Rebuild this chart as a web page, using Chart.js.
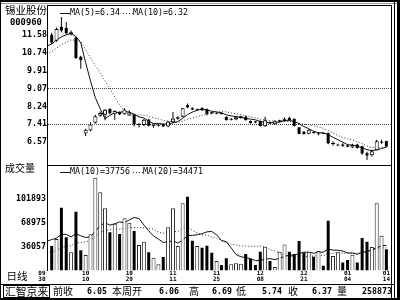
<!DOCTYPE html>
<html lang="zh-CN">
<head>
<meta charset="utf-8">
<title>锡业股份 日线</title>
<script src="https://cdn.jsdelivr.net/npm/chart.js@4.4.1/dist/chart.umd.min.js"></script>
<style>
html,body{margin:0;padding:0;background:#fff;}
#wrap{position:relative;width:400px;height:300px;overflow:hidden;background:#fff;}
#wrap canvas{position:absolute;left:0;}
.t{position:absolute;white-space:nowrap;color:#000;}
.cjk{font-family:"Noto Sans CJK SC","Noto Sans",sans-serif;}
.num{font-family:"DejaVu Sans Mono",monospace;font-weight:bold;font-size:8.3px;line-height:8.3px;}
.ln{position:absolute;background:#000;}
</style>
</head>
<body>
<div id="wrap">
<canvas id="cp" width="400" height="166" style="top:0"></canvas>
<canvas id="cv" width="400" height="120" style="top:165px"></canvas>

<div class="ln" style="left:0;top:0;width:400px;height:2px"></div>
<div class="ln" style="left:0;top:3px;width:397px;height:1px;background:#999"></div>
<div class="ln" style="left:0;top:0;width:1px;height:300px"></div>
<div class="ln" style="left:47px;top:5px;width:345px;height:1px"></div>
<div class="ln" style="left:47px;top:5px;width:1px;height:266px"></div>
<div class="ln" style="left:391px;top:5px;width:1px;height:293px"></div>
<div class="ln" style="left:394px;top:0;width:1px;height:300px"></div>
<div class="ln" style="left:397px;top:0;width:3px;height:300px"></div>
<div class="ln" style="left:47px;top:165px;width:345px;height:1px"></div>
<div class="ln" style="left:0;top:284px;width:395px;height:1px"></div>
<div class="ln" style="left:0;top:298px;width:400px;height:2px"></div>
<div style="position:absolute;left:3px;top:285px;width:45px;height:11px;border:1px solid #000"></div>

<div class="t cjk" id="nm" style="left:5px;top:4.5px;font-size:10.5px;line-height:10.5px"></div>
<div class="t num" id="cd" style="left:10px;top:17.5px;font-size:8.8px;line-height:8.8px"></div>
<div class="t cjk" style="left:5px;top:162.5px;font-size:10px;line-height:10px">成交量</div>
<div class="t cjk" style="left:6.5px;top:271px;font-size:10.5px;line-height:10.5px">日线</div>

<div class="t cjk" style="left:5px;top:285.6px;font-size:10.8px;line-height:10.8px">汇智京来</div>
<div class="t cjk" style="left:53px;top:286px;font-size:10px;line-height:10px">前收</div>
<div class="t num" id="sPrev" style="left:87px;top:287.3px"></div>
<div class="t cjk" style="left:112px;top:286px;font-size:10px;line-height:10px">本周开</div>
<div class="t num" id="sOpen" style="left:159px;top:287.3px"></div>
<div class="t cjk" style="left:189px;top:286px;font-size:10px;line-height:10px">高</div>
<div class="t num" id="sHigh" style="left:212px;top:287.3px"></div>
<div class="t cjk" style="left:236px;top:286px;font-size:10px;line-height:10px">低</div>
<div class="t num" id="sLow" style="left:262px;top:287.3px"></div>
<div class="t cjk" style="left:288px;top:286px;font-size:10px;line-height:10px">收</div>
<div class="t num" id="sClose" style="left:312px;top:287.3px"></div>
<div class="t cjk" style="left:337px;top:286px;font-size:10px;line-height:10px">量</div>
<div class="t num" id="sVol" style="left:362px;top:287.3px"></div>
</div>

<script>
const stockName = '锡业股份';
const stockCode = '000960';

const opens = [11.58,11.30,11.95,11.90,11.60,11.45,10.55,6.98,7.12,7.48,
 7.80,7.85,8.12,7.88,7.98,7.87,7.82,7.86,7.37,7.37,
 7.62,7.31,7.34,7.40,7.30,7.50,7.66,7.76,8.30,8.16,
 8.06,8.16,8.11,7.95,7.90,7.94,7.75,7.62,7.63,7.70,
 7.76,7.56,7.52,7.56,7.31,7.50,7.41,7.52,7.56,7.70,
 7.66,7.26,7.06,6.96,7.04,6.94,6.98,7.00,6.48,6.42,
 6.46,6.42,6.32,6.46,6.38,6.06,5.96,6.20,6.55,6.62];
const highs = [11.68,11.92,12.41,12.18,11.78,11.50,10.60,7.20,7.50,7.85,
 8.00,8.12,8.16,8.05,8.00,8.16,8.05,7.90,7.45,7.66,
 7.66,7.46,7.42,7.42,7.56,7.98,7.78,8.17,8.38,8.20,
 8.14,8.20,8.14,7.98,7.96,7.96,7.78,7.70,7.76,7.80,
 7.80,7.58,7.56,7.58,7.76,7.54,7.58,7.62,7.72,7.76,
 7.68,7.28,7.08,7.18,7.07,7.05,7.00,7.02,6.60,6.50,
 6.52,6.46,6.50,6.50,6.40,6.12,6.22,6.69,6.68,6.64];
const lows = [11.15,11.25,11.70,11.60,11.55,10.45,10.00,6.86,7.08,7.44,
 7.76,7.60,7.88,7.62,7.84,7.85,7.80,7.30,7.26,7.33,
 7.30,7.24,7.30,7.28,7.27,7.47,7.62,7.74,8.15,8.06,
 8.04,8.04,7.82,7.88,7.88,7.86,7.58,7.58,7.60,7.66,
 7.58,7.44,7.46,7.30,7.28,7.42,7.38,7.50,7.54,7.58,
 7.30,6.94,6.92,6.94,6.98,6.90,6.94,6.48,6.42,6.38,
 6.36,6.34,6.30,6.28,5.98,5.74,5.90,6.18,6.50,6.34];
const closes = [11.22,11.85,11.78,11.65,11.70,10.50,10.40,7.15,7.40,7.78,
 7.93,8.08,7.92,8.03,7.87,8.10,7.96,7.40,7.43,7.62,
 7.34,7.44,7.40,7.31,7.54,7.68,7.74,8.15,8.20,8.10,
 8.10,8.06,7.90,7.92,7.93,7.88,7.60,7.66,7.74,7.78,
 7.60,7.46,7.50,7.33,7.60,7.46,7.55,7.60,7.66,7.60,
 7.33,6.96,6.96,7.15,7.00,6.98,6.96,6.52,6.53,6.46,
 6.40,6.36,6.44,6.30,6.05,5.95,6.15,6.62,6.60,6.37];
const volumes = [37000,46800,90200,49100,28300,84700,31000,24500,53300,131900,
 111600,89400,56100,68000,53700,75500,69400,57900,38400,43000,
 28300,20800,11600,21800,63000,89400,37000,96300,105500,44400,
 37000,34700,37400,27700,16200,10600,20000,11600,13000,12400,
 25900,19400,10600,29100,36000,16200,7800,29100,39200,29100,
 25860,44000,27700,29000,22200,30000,9700,72000,23100,28300,
 14000,17600,25000,14087,48000,43000,35773,96300,51300,32500];

// sessions before the visible window (feed the moving averages only)
const priorCloses = [10.10,10.20,10.30,10.45,10.55,10.75,10.90,11.05,11.20,11.38];
const priorVolumes = [11000,10500,12000,9800,13500,11200,12600,10800,14000,12300,
 13300,28000,35000,52000,61000,44000,58000,49000,41000,55000];

const priceTicks = [6.57,7.41,8.24,9.07,9.91,10.74,11.58];
const priceRefLines = [7.41,9.07];
const volTicks = [36057,68975,101893];
const dateMonths = ['09','10','10','11','11','12','12','01','01'];
const dateDays   = ['30','10','29','11','25','08','21','04','14'];
const dateBars   = [-2,7,16,25,34,43,52,61,69];
const weekStart = 65;

function movingAvg(series, prior, n) {
  const all = prior.concat(series), off = prior.length, out = [];
  for (let i = -1; i < series.length; i++) {
    const j = i + off;
    if (j - n + 1 < 0) continue;
    let s = 0;
    for (let k = j - n + 1; k <= j; k++) s += all[k];
    out.push({x: i, y: s / n});
  }
  return out;
}
const lastY = a => a[a.length - 1].y;

const idx = closes.map((_, i) => i);
const isUp = i => closes[i] >= opens[i];
const upBodies = idx.filter(isUp).map(i => ({x: i, y: [opens[i], closes[i]]}));
const downBodies = idx.filter(i => !isUp(i)).map(i => ({x: i, y: [opens[i], closes[i]]}));
const wicks = idx.map(i => ({x: i, y: [lows[i], highs[i]]}));
const upVols = idx.filter(isUp).map(i => ({x: i, y: volumes[i]}));
const downVols = idx.filter(i => !isUp(i)).map(i => ({x: i, y: volumes[i]}));

const ma5 = movingAvg(closes, priorCloses, 5);
const ma10 = movingAvg(closes, priorCloses, 10);
const vma10 = movingAvg(volumes, priorVolumes, 10);
const vma20 = movingAvg(volumes, priorVolumes, 20);

const volStep = volTicks[1] - volTicks[0];
const volMin = volTicks[0] - volStep;
const volMax = volTicks[volTicks.length - 1] + volStep;

const monoFont = {family: 'DejaVu Sans Mono', size: 8.3, weight: 'bold'};
const X_MIN = -0.76, X_MAX = 69.95;

const maLegend = {
  id: 'maLegend',
  afterDraw(chart, args, opts) {
    const ctx = chart.ctx;
    ctx.save();
    ctx.font = opts.font;
    ctx.fillStyle = '#000';
    ctx.textBaseline = 'middle';
    let x = opts.x;
    const y = opts.y;
    chart.data.datasets.forEach(ds => {
      if (!ds.legendText) return;
      ctx.strokeStyle = ds.borderColor;
      ctx.lineWidth = 1;
      ctx.setLineDash(ds.borderDash || []);
      ctx.beginPath();
      ctx.moveTo(x, Math.round(y) + 0.5);
      ctx.lineTo(x + 10, Math.round(y) + 0.5);
      ctx.stroke();
      ctx.setLineDash([]);
      ctx.fillText(ds.legendText, x + 10, y);
      x += 10 + ctx.measureText(ds.legendText).width + 3;
    });
    ctx.restore();
  }
};

const common = {
  responsive: false, animation: false, devicePixelRatio: 1, events: []
};

new Chart(document.getElementById('cp'), {
  type: 'bar',
  data: {datasets: [
    {type: 'bar', data: upBodies, backgroundColor: '#fff', borderColor: '#000', borderWidth: 1,
     borderSkipped: false, barThickness: 4, grouped: false, inflateAmount: 0, minBarLength: 1},
    {type: 'bar', data: downBodies, backgroundColor: '#000', borderWidth: 0,
     barThickness: 3, grouped: false, inflateAmount: 0, minBarLength: 1},
    {type: 'bar', data: wicks, backgroundColor: '#000', borderWidth: 0,
     barThickness: 1, grouped: false, inflateAmount: 0},
    {type: 'line', data: ma5, borderColor: '#111', borderWidth: 1, pointRadius: 0, tension: 0,
     legendText: 'MA(5)=' + lastY(ma5).toFixed(2)},
    {type: 'line', data: ma10, borderColor: '#333', borderWidth: 1, borderDash: [1, 2], pointRadius: 0, tension: 0,
     legendText: 'MA(10)=' + lastY(ma10).toFixed(2)}
  ]},
  options: Object.assign({}, common, {
    layout: {padding: {left: 0, right: 9, top: 17, bottom: 1}},
    plugins: {legend: {display: false}, tooltip: {enabled: false},
      maLegend: {x: 60, y: 13.3, font: '8.3px "DejaVu Sans Mono"'}},
    scales: {
      x: {type: 'linear', min: X_MIN, max: X_MAX, offset: false, display: false},
      y: {type: 'linear', min: Math.min(...lows), max: Math.max(...highs),
        afterBuildTicks: s => { s.ticks = priceTicks.map(v => ({value: v})); },
        afterFit: s => { s.width = 48; },
        ticks: {callback: v => Number(v).toFixed(2), font: monoFont, color: '#000', padding: 1},
        grid: {color: c => (c.tick && priceRefLines.includes(c.tick.value)) ? '#444' : 'rgba(0,0,0,0)',
               drawTicks: false, lineWidth: 1},
        border: {display: false, dash: [1, 1]}
      }
    }
  }),
  plugins: [maLegend]
});

new Chart(document.getElementById('cv'), {
  type: 'bar',
  data: {datasets: [
    {type: 'bar', data: upVols, backgroundColor: '#fff', borderColor: '#222', borderWidth: 1,
     barThickness: 4, grouped: false, inflateAmount: 0, base: volMin},
    {type: 'bar', data: downVols, backgroundColor: '#000', borderWidth: 0,
     barThickness: 3, grouped: false, inflateAmount: 0, base: volMin},
    {type: 'line', data: vma10, borderColor: '#111', borderWidth: 1, pointRadius: 0, tension: 0,
     legendText: 'MA(10)=' + Math.round(lastY(vma10))},
    {type: 'line', data: vma20, borderColor: '#333', borderWidth: 1, borderDash: [1, 2], pointRadius: 0, tension: 0,
     legendText: 'MA(20)=' + Math.round(lastY(vma20))}
  ]},
  options: Object.assign({}, common, {
    layout: {padding: {left: 0, right: 9, top: 10.6, bottom: 0}},
    plugins: {legend: {display: false}, tooltip: {enabled: false},
      maLegend: {x: 60, y: 6.5, font: '8.3px "DejaVu Sans Mono"'}},
    scales: {
      x: {type: 'linear', min: X_MIN, max: X_MAX, offset: false, position: 'bottom',
        afterBuildTicks: s => { s.ticks = dateBars.map(v => ({value: v})); },
        afterFit: s => { s.height = 14.6; },
        ticks: {autoSkip: false, maxRotation: 0, minRotation: 0, padding: 0, color: '#000',
          font: {family: 'DejaVu Sans Mono', size: 6, weight: 'bold', lineHeight: 0.95},
          callback: (v, i) => [dateMonths[i], dateDays[i]]},
        grid: {display: false, drawTicks: false, offset: false}, border: {display: false}
      },
      y: {type: 'linear', min: volMin, max: volMax,
        afterBuildTicks: s => { s.ticks = volTicks.map(v => ({value: v})); },
        afterFit: s => { s.width = 48; },
        ticks: {callback: v => String(v), font: monoFont, color: '#000', padding: 2},
        grid: {display: false, drawTicks: false}, border: {display: false}
      }
    }
  }),
  plugins: [maLegend]
});

// header and weekly status bar
document.getElementById('nm').textContent = stockName;
document.getElementById('cd').textContent = stockCode;
const wk = idx.slice(weekStart);
document.getElementById('sPrev').textContent = closes[weekStart - 1].toFixed(2);
document.getElementById('sOpen').textContent = opens[weekStart].toFixed(2);
document.getElementById('sHigh').textContent = Math.max(...wk.map(i => highs[i])).toFixed(2);
document.getElementById('sLow').textContent = Math.min(...wk.map(i => lows[i])).toFixed(2);
document.getElementById('sClose').textContent = closes[closes.length - 1].toFixed(2);
document.getElementById('sVol').textContent = String(wk.reduce((s, i) => s + volumes[i], 0));
</script>
</body>
</html>
